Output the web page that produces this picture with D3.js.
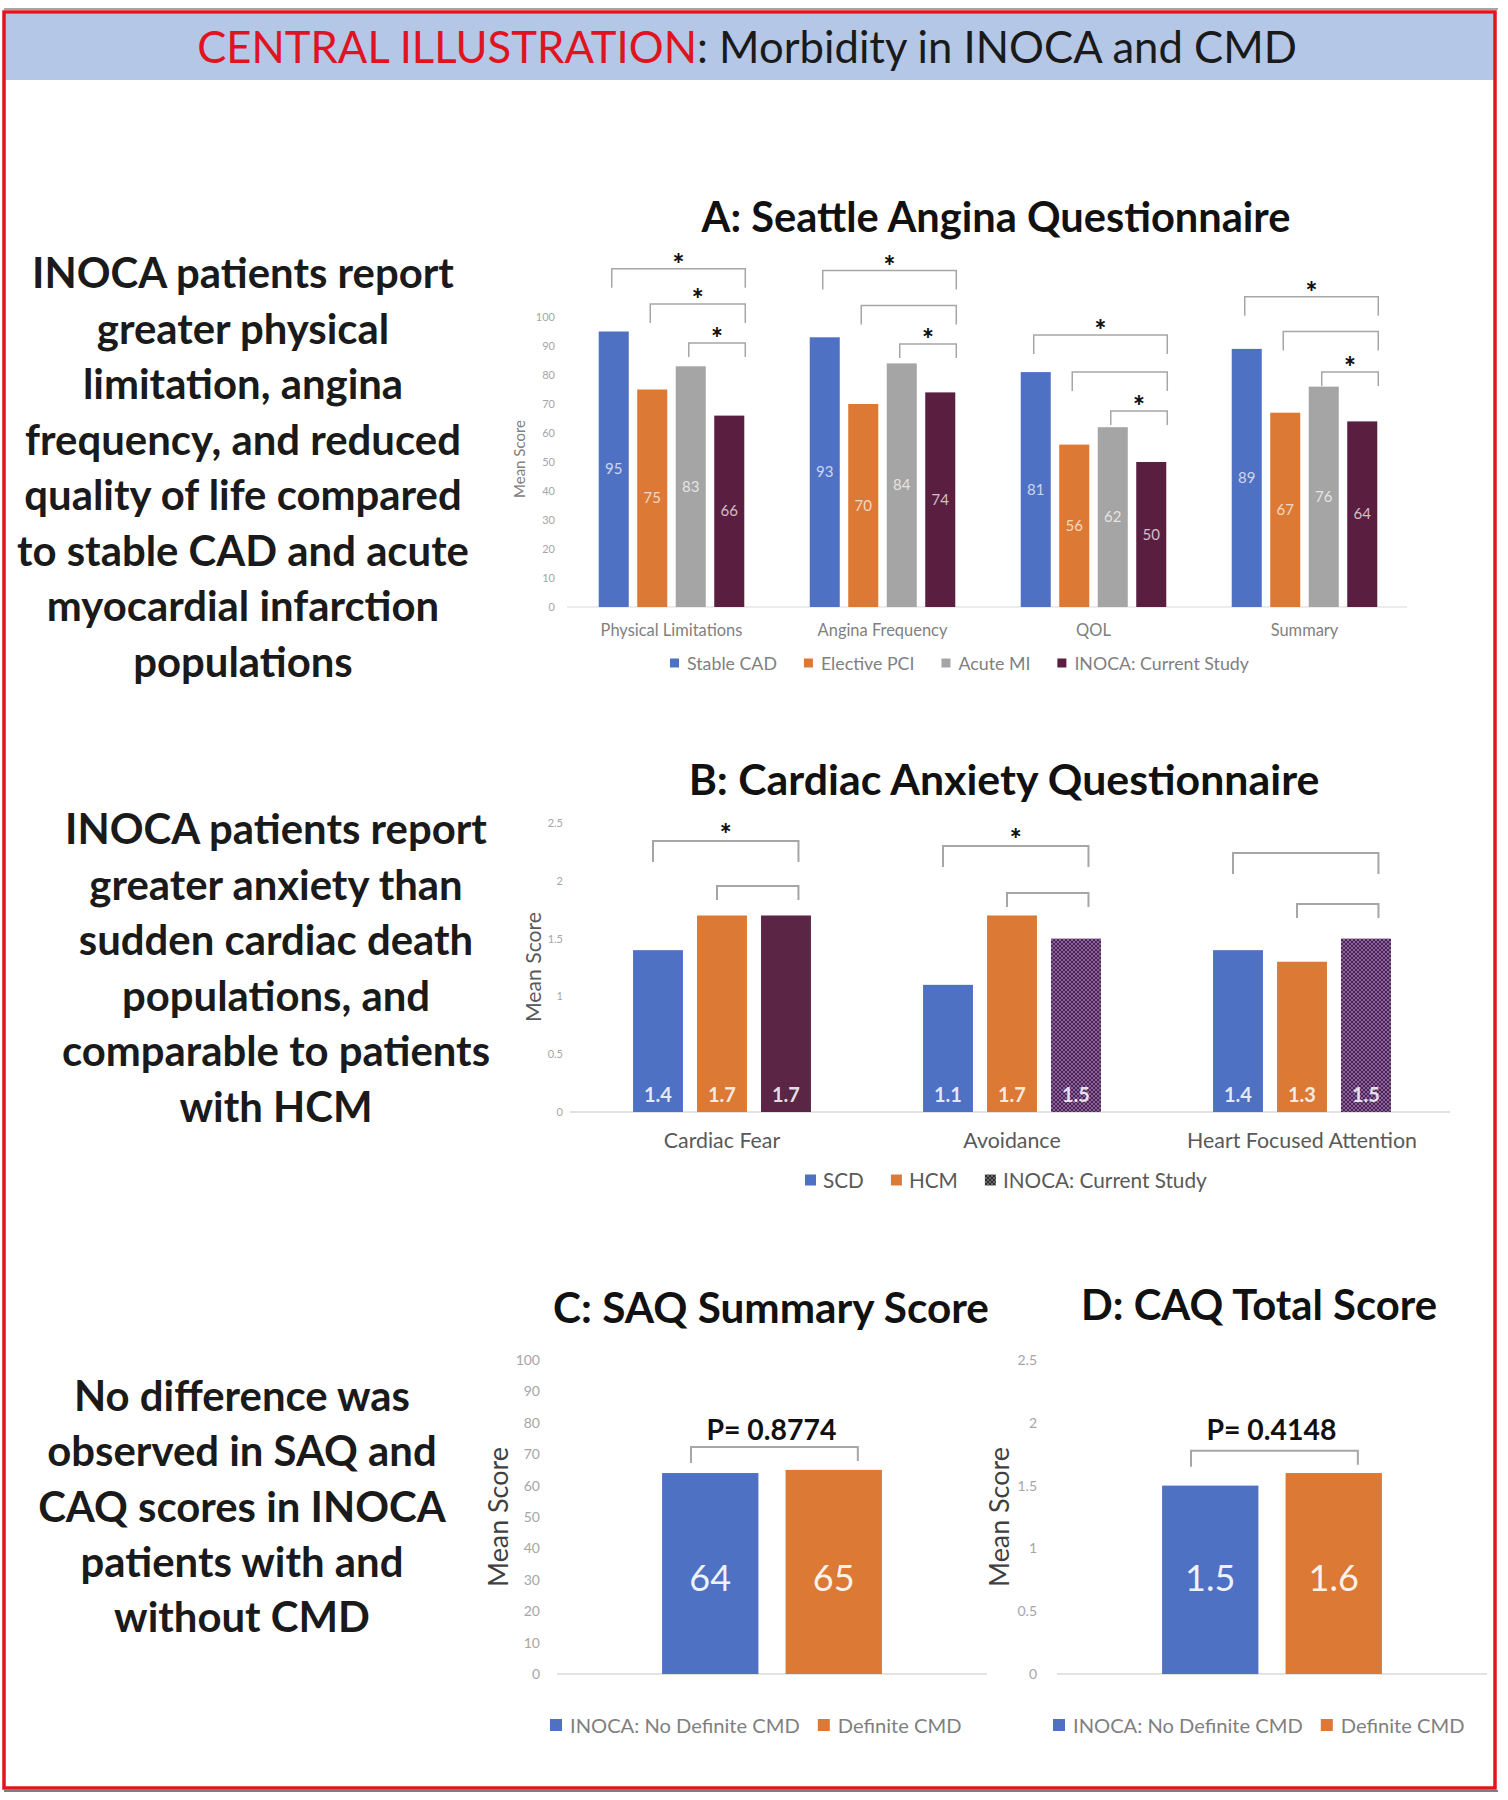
<!DOCTYPE html>
<html><head><meta charset="utf-8">
<script src="https://cdn.jsdelivr.net/npm/d3@7"></script>
<style>body{margin:0;background:#fff} svg{display:block} text{font-family:Lato,"Noto Sans",sans-serif}</style>
</head><body><svg id="c" width="1508" height="1800"></svg>
<script>
// ---------- DATA ----------
const saqCategories = ["Physical Limitations", "Angina Frequency", "QOL", "Summary"];
const saqSeries = ["Stable CAD", "Elective PCI", "Acute MI", "INOCA: Current Study"];
const saqStableCAD = [95, 93, 81, 89];
const saqElectivePCI = [75, 70, 56, 67];
const saqAcuteMI = [83, 84, 62, 76];
const saqINOCA = [66, 74, 50, 64];
const saqTicks = [0, 10, 20, 30, 40, 50, 60, 70, 80, 90, 100];
// [category index, from series, to series, level (score units), significant]
const saqBrackets = [
  [0, 0, 3, 116.6, true], [0, 1, 3, 104.5, true], [0, 2, 3, 91, true],
  [1, 0, 3, 116, true], [1, 1, 3, 104, false], [1, 2, 3, 90.7, true],
  [2, 0, 3, 93.8, true], [2, 1, 3, 81, false], [2, 2, 3, 67.6, true],
  [3, 0, 3, 107, true], [3, 1, 3, 95, false], [3, 2, 3, 81, true]
];

const caqCategories = ["Cardiac Fear", "Avoidance", "Heart Focused Attention"];
const caqSeries = ["SCD", "HCM", "INOCA: Current Study"];
const caqSCD = [1.4, 1.1, 1.4];
const caqHCM = [1.7, 1.7, 1.3];
const caqINOCA = [1.7, 1.5, 1.5];
const caqTicks = [0, 0.5, 1, 1.5, 2, 2.5];
const caqBrackets = [
  [0, 0, 2, 2.344, true], [0, 1, 2, 1.955, false],
  [1, 0, 2, 2.30, true], [1, 1, 2, 1.894, false],
  [2, 0, 2, 2.24, false], [2, 1, 2, 1.80, false]
];

const cmdGroups = ["INOCA: No Definite CMD", "Definite CMD"];
const saqSummaryByCMD = [64, 65];
const saqSummaryP = "P= 0.8774";
const saqSummaryBracketLevel = 72.3;
const caqTotalByCMD = [1.5, 1.6];
const caqTotalP = "P= 0.4148";
const caqTotalBracketLevel = 1.778;
const cmdTicksSAQ = [0, 10, 20, 30, 40, 50, 60, 70, 80, 90, 100];
const cmdTicksCAQ = [0, 0.5, 1, 1.5, 2, 2.5];

const textA = ["INOCA patients report", "greater physical", "limitation, angina", "frequency, and reduced",
  "quality of life compared", "to stable CAD and acute", "myocardial infarction", "populations"];
const textB = ["INOCA patients report", "greater anxiety than", "sudden cardiac death",
  "populations, and", "comparable to patients", "with HCM"];
const textC = ["No difference was", "observed in SAQ and", "CAQ scores in INOCA", "patients with and", "without CMD"];

// ---------- STYLE ----------
const BLUE = "#4f71c4", ORANGE = "#dc7a35", GRAY = "#a5a5a5", MAROON = "#5a1f40";
const BRACKET = "#a6a6a6";

const svg = d3.select("#c");
const defs = svg.append("defs");
function hatch(id, bg, fg) {
  const p = defs.append("pattern").attr("id", id).attr("width", 4).attr("height", 4)
    .attr("patternUnits", "userSpaceOnUse");
  p.append("rect").attr("width", 4).attr("height", 4).attr("fill", bg);
  p.append("path").attr("d", "M0,0 L4,4 M4,0 L0,4").attr("stroke", fg).attr("stroke-width", 1);
}
hatch("hatchP", "#4a2459", "#8a6298");
hatch("hatchG", "#2e2e2e", "#6a6a6a");

function fitTo(sel, target) {
  const n = sel.node(); const w = n.getComputedTextLength();
  const fs = parseFloat(sel.attr("font-size"));
  return fs * target / w;
}

// ---------- FRAME & HEADER ----------
svg.append("line").attr("x1", 4).attr("x2", 1498).attr("y1", 9).attr("y2", 9).attr("stroke", "#888").attr("stroke-width", 1.5);
svg.append("rect").attr("x", 4).attr("y", 14).attr("width", 1492).attr("height", 66).attr("fill", "#b4c7e7");
svg.append("line").attr("x1", 4).attr("x2", 1498).attr("y1", 1791).attr("y2", 1791).attr("stroke", "#555").attr("stroke-width", 1.5);
svg.append("rect").attr("x", 4).attr("y", 12).attr("width", 1491).attr("height", 1776)
  .attr("fill", "none").attr("stroke", "#e3141c").attr("stroke-width", 3.5);

const title = svg.append("text").attr("x", 747).attr("y", 63).attr("text-anchor", "middle").attr("font-size", 44);
title.append("tspan").attr("fill", "#e0141e").text("CENTRAL ILLUSTRATION");
title.append("tspan").attr("fill", "#1a1a1a").text(": Morbidity in INOCA and CMD");
title.attr("font-size", fitTo(title, 1100));

// ---------- LEFT PARAGRAPHS ----------
function paragraph(lines, cx, y0, dy, fs) {
  const g = svg.append("g");
  lines.forEach((t, i) => g.append("text").attr("x", cx).attr("y", y0 + i * dy)
    .attr("text-anchor", "middle").attr("font-weight", 700).attr("font-size", fs).attr("fill", "#1a1a1a").text(t));
}
const probe = svg.append("text").attr("font-weight", 700).attr("font-size", 40).text("INOCA patients report");
const paraFs = fitTo(probe, 422);
probe.remove();
paragraph(textA, 243, 288, 55.5, paraFs);
paragraph(textB, 276, 844, 55.5, paraFs);
paragraph(textC, 242, 1411, 55.3, paraFs);

// ---------- helpers ----------
function chartTitle(t, cx, y, w) {
  const s = svg.append("text").attr("x", cx).attr("y", y).attr("text-anchor", "middle")
    .attr("font-weight", 700).attr("font-size", 34).attr("fill", "#111").text(t);
  s.attr("font-size", fitTo(s, w));
}
function yAxis(scale, ticks, xRight, fs, fmt) {
  const g = svg.append("g").attr("transform", `translate(${xRight},0)`)
    .call(d3.axisLeft(scale).tickValues(ticks).tickSize(0).tickPadding(0).tickFormat(fmt || (d => d)));
  g.select(".domain").remove();
  g.attr("font-family", "Lato, 'Noto Sans', sans-serif").attr("font-size", fs);
  g.selectAll("text").attr("fill", "#a6a6a6");
}
function yLabel(cx, cy, fs, col, target) {
  const s = svg.append("text").attr("transform", `translate(${cx},${cy}) rotate(-90)`)
    .attr("text-anchor", "middle").attr("dominant-baseline", "central")
    .attr("font-size", fs).attr("fill", col).text("Mean Score");
  s.attr("font-size", fitTo(s, target));
}
function bracket(l, r, yLine, legL, legR, sw) {
  svg.append("path").attr("d", `M${l},${yLine + legL} L${l},${yLine} L${r},${yLine} L${r},${yLine + legR}`)
    .attr("fill", "none").attr("stroke", BRACKET).attr("stroke-width", sw);
}
function star(x, y) {
  svg.append("text").attr("x", x).attr("y", y + 16).attr("text-anchor", "middle")
    .attr("font-weight", 900).attr("font-size", 28).attr("fill", "#111").text("*");
}
function legend(items, x0, cy, sq, off, gap, fs, col, refText, refW) {
  const g = svg.append("g");
  const probeL = g.append("text").attr("font-size", fs).text(refText);
  const f = fitTo(probeL, refW); probeL.remove();
  let x = x0;
  items.forEach(it => {
    g.append("rect").attr("x", x).attr("y", cy - sq / 2).attr("width", sq).attr("height", sq).attr("fill", it.fill);
    const t = g.append("text").attr("x", x + off).attr("y", cy).attr("dominant-baseline", "central")
      .attr("font-size", f).attr("fill", col).text(it.name);
    x = x + off + t.node().getComputedTextLength() + gap;
  });
}
function catLabels(cats, xs, y, fs, col, refIdx, refW) {
  const probeC = svg.append("text").attr("font-size", fs).text(cats[refIdx]);
  const f = fitTo(probeC, refW); probeC.remove();
  cats.forEach((c, i) => svg.append("text").attr("x", xs(i)).attr("y", y).attr("text-anchor", "middle")
    .attr("font-size", f).attr("fill", col).text(c));
}

// ---------- A: SAQ ----------
chartTitle("A: Seattle Angina Questionnaire", 996, 232, 589);
const saqValues = [saqStableCAD, saqElectivePCI, saqAcuteMI, saqINOCA];
const saqColors = [BLUE, ORANGE, GRAY, MAROON];
const yA = d3.scaleLinear().domain([0, 100]).range([607, 317]);
const x0A = d3.scaleBand().domain(saqCategories).range([566, 1410]).paddingInner(0.27).paddingOuter(0.135);
const x1A = d3.scaleBand().domain(saqSeries).range([0, x0A.bandwidth()]).paddingInner(0.22).paddingOuter(0.11);
svg.append("line").attr("x1", 567).attr("x2", 1407).attr("y1", yA(0)).attr("y2", yA(0)).attr("stroke", "#d9d9d9").attr("stroke-width", 1.2);
yAxis(yA, saqTicks, 555, 11);
yLabel(519, 459, 14, "#808080", 78);
saqCategories.forEach((c, i) => {
  saqSeries.forEach((s, j) => {
    const v = saqValues[j][i];
    const x = x0A(c) + x1A(s);
    svg.append("rect").attr("x", x).attr("y", yA(v)).attr("width", x1A.bandwidth()).attr("height", yA(0) - yA(v)).attr("fill", saqColors[j]);
    svg.append("text").attr("x", x + x1A.bandwidth() / 2).attr("y", (yA(v) + yA(0)) / 2 + 5)
      .attr("text-anchor", "middle").attr("font-size", 15).attr("fill", "#fff").attr("fill-opacity", 0.72).text(v);
  });
});
saqBrackets.forEach(([ci, a, b, lvl, sig]) => {
  const c = saqCategories[ci];
  const l = x0A(c) + x1A(saqSeries[a]) + x1A.bandwidth() / 2 - 2;
  const r = x0A(c) + x1A(saqSeries[b]) + x1A.bandwidth() + 1;
  const yl = yA(lvl);
  const leg = (b - a === 1) ? 14 : 19;
  bracket(l, r, yl, leg, leg, 1.5);
  if (sig) star((l + r) / 2, yl - 11);
});
catLabels(saqCategories, i => x0A(saqCategories[i]) + x0A.bandwidth() / 2, 636, 14, "#7f7f7f", 0, 142);
legend(saqSeries.map((s, j) => ({ name: s, fill: saqColors[j] })), 670, 663, 9, 17, 27, 14, "#7f7f7f", "Stable CAD", 90);

// ---------- B: CAQ ----------
chartTitle("B: Cardiac Anxiety Questionnaire", 1004, 795, 631);
const caqValues = [caqSCD, caqHCM, caqINOCA];
const yB = d3.scaleLinear().domain([0, 2.5]).range([1112, 823]);
const x0B = d3.scaleBand().domain(caqCategories).range([577, 1447]).paddingInner(0.338).paddingOuter(0.169);
const x1B = d3.scaleBand().domain(caqSeries).range([0, x0B.bandwidth()]).paddingInner(0.22).paddingOuter(0.11);
svg.append("line").attr("x1", 570).attr("x2", 1450).attr("y1", yB(0)).attr("y2", yB(0)).attr("stroke", "#d9d9d9").attr("stroke-width", 1.5);
yAxis(yB, caqTicks, 563, 11);
yLabel(533, 967, 20, "#595959", 110);
const caqFill = (i, j) => j === 0 ? BLUE : j === 1 ? ORANGE : (i === 0 ? "#5b2546" : "url(#hatchP)");
caqCategories.forEach((c, i) => {
  caqSeries.forEach((s, j) => {
    const v = caqValues[j][i];
    const x = x0B(c) + x1B(s);
    svg.append("rect").attr("x", x).attr("y", yB(v)).attr("width", x1B.bandwidth()).attr("height", yB(0) - yB(v)).attr("fill", caqFill(i, j));
    svg.append("text").attr("x", x + x1B.bandwidth() / 2).attr("y", 1102)
      .attr("text-anchor", "middle").attr("font-size", 20).attr("font-weight", 700).attr("fill", "#fff").attr("fill-opacity", 0.85).text(v.toFixed(1));
  });
});
caqBrackets.forEach(([ci, a, b, lvl, sig]) => {
  const c = caqCategories[ci];
  const l = x0B(c) + x1B(caqSeries[a]) + x1B.bandwidth() * 0.4;
  const r = x0B(c) + x1B(caqSeries[b]) + x1B.bandwidth() * 0.75;
  const yl = yB(lvl);
  const leg = (b - a === 1) ? 14 : 21;
  bracket(l, r, yl, leg, leg, 2);
  if (sig) star((l + r) / 2, yl - 13);
});
catLabels(caqCategories, i => x0B(caqCategories[i]) + x0B.bandwidth() / 2, 1148, 17, "#595959", 2, 230);
legend(caqSeries.map((s, j) => ({ name: s, fill: [BLUE, ORANGE, "url(#hatchG)"][j] })), 805, 1180, 11, 18, 27, 17, "#595959", "INOCA: Current Study", 204);

// ---------- C & D ----------
function cmdChart(opts) {
  chartTitle(opts.title, opts.titleX, opts.titleY, opts.titleW);
  const y = d3.scaleLinear().domain(opts.domain).range([1674, 1360]);
  const cx = (opts.axisL + opts.axisR) / 2;
  const step = 123.5;
  const x = d3.scaleBand().domain(cmdGroups).range([cx - step, cx + step]).paddingInner(0.22).paddingOuter(0.11);
  svg.append("line").attr("x1", opts.axisL).attr("x2", opts.axisR).attr("y1", y(0)).attr("y2", y(0)).attr("stroke", "#d9d9d9").attr("stroke-width", 1.5);
  yAxis(y, opts.ticks, opts.tickX, 14);
  yLabel(opts.labX, 1517, 26, "#404040", 140);
  const cols = [BLUE, ORANGE];
  cmdGroups.forEach((gname, i) => {
    const v = opts.values[i];
    svg.append("rect").attr("x", x(gname)).attr("y", y(v)).attr("width", x.bandwidth()).attr("height", y(0) - y(v)).attr("fill", cols[i]);
    svg.append("text").attr("x", x(gname) + x.bandwidth() / 2).attr("y", 1578 + 13)
      .attr("text-anchor", "middle").attr("font-size", 36).attr("fill", "#fff").attr("fill-opacity", 0.92).text(opts.fmt(v));
  });
  const l = x(cmdGroups[0]) + x.bandwidth() * 0.3;
  const r = x(cmdGroups[1]) + x.bandwidth() * 0.75;
  const yl = y(opts.level);
  bracket(l, r, yl, 16, 14, 2);
  const p = svg.append("text").attr("x", (l + r) / 2 - 3).attr("y", 1440).attr("text-anchor", "middle")
    .attr("font-weight", 700).attr("font-size", 27).attr("fill", "#111").text(opts.p);
  p.attr("font-size", fitTo(p, 130));
  legend(cmdGroups.map((g, i) => ({ name: g, fill: cols[i] })), opts.legX, 1725, 12, 20, 18, 19, "#7f7f7f", cmdGroups[0], 230);
}
cmdChart({ title: "C: SAQ Summary Score", titleX: 771, titleY: 1323, titleW: 436, domain: [0, 100], ticks: cmdTicksSAQ,
  values: saqSummaryByCMD, fmt: d => d, level: saqSummaryBracketLevel, p: saqSummaryP,
  axisL: 557, axisR: 987, tickX: 540, labX: 497, legX: 550 });
cmdChart({ title: "D: CAQ Total Score", titleX: 1259, titleY: 1320, titleW: 356, domain: [0, 2.5], ticks: cmdTicksCAQ,
  values: caqTotalByCMD, fmt: d => d.toFixed(1), level: caqTotalBracketLevel, p: caqTotalP,
  axisL: 1057, axisR: 1487, tickX: 1037, labX: 998, legX: 1053 });
</script></body></html>
